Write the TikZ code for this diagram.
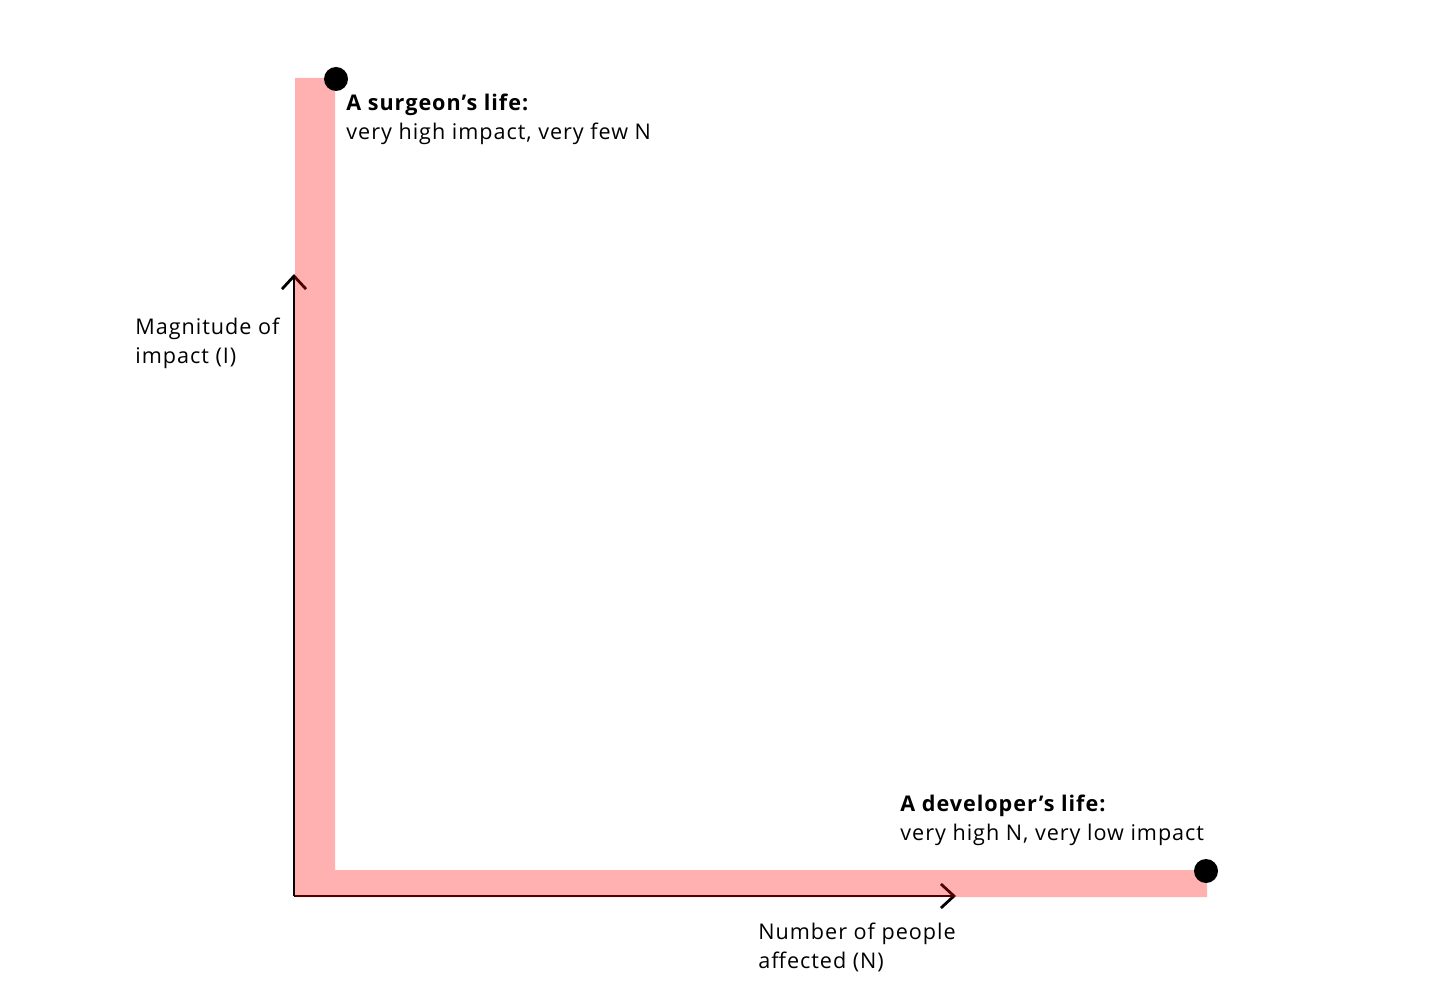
\documentclass[tikz,border=0pt]{standalone}
\usepackage{fontspec}
\setmainfont[LetterSpace=4.5]{Open Sans}
\usetikzlibrary{arrows.meta,positioning}
\tikzset{>={Straight Barb[length=6.5pt,width=12pt]}}
\tikzset{
  axis/.style={->, line width=1.4pt, black},
  band/.style={fill=red, opacity=0.31},
  point/.style={circle, fill=black, inner sep=0pt, minimum size=12pt},
  caption/.style={align=left, anchor=north west, inner sep=0pt, font=\fontsize{10.8pt}{14.5pt}\selectfont},
}
\begin{document}
\begin{tikzpicture}[x=0.5pt, y=-0.5pt]
  \useasboundingbox (0,0) rectangle (1456,1005);
  % axes
  \coordinate (origin) at (294,896);
  \coordinate (ytip) at (294,274);
  \coordinate (xtip) at (956,896);
  \draw[axis] (origin) -- (ytip);
  \draw[axis] (origin) -- (xtip);
  % the pink L
  \fill[band] (295,78) -- (335,78) -- (335,870) -- (1207,870) -- (1207,897) -- (295,897) -- cycle;
  % the two lives
  \node[point] (surgeon) at (336,79) {};
  \node[point] (developer) at (1206,871) {};
  \node[caption] (surgeonlbl) at (346,94) {\textbf{A surgeon’s life:}\\very high impact, very few N};
  \node[caption] (developerlbl) at (900,795) {\textbf{A developer’s life:}\\very high N, very low impact};
  % axis labels
  \node[caption] (ylbl) at (135,318) {Magnitude of\\impact (I)};
  \node[caption] (xlbl) at (758,923) {Number of people\\affected (N)};
\end{tikzpicture}
\end{document}
